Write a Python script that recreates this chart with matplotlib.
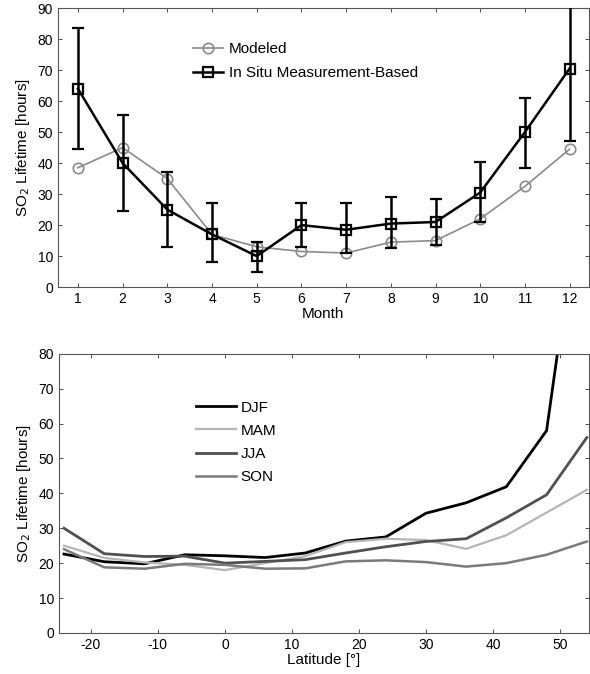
import numpy as np
import matplotlib
matplotlib.use('Agg')
import matplotlib.pyplot as plt

plt.rcParams['font.family'] = ['Liberation Sans', 'DejaVu Sans']
plt.rcParams['axes.unicode_minus'] = False

## monthly SO2 lifetime (top panel)
months = [1, 2, 3, 4, 5, 6, 7, 8, 9, 10, 11, 12]
modeled = [38.5, 45, 35, 17, 13, 11.5, 11, 14.5, 15, 22, 32.5, 44.5]
insitu = [64, 40, 25, 17, 10, 20, 18.5, 20.5, 21, 30.5, 50, 70.5]
err_low = [44.5, 24.5, 13, 8, 5, 13, 11, 12.5, 13.5, 21, 38.5, 47]
err_high = [83.5, 55.5, 37, 27, 14.5, 27, 27, 29, 28.5, 40.5, 61, 95]

## seasonal lifetime vs latitude (bottom panel)
lat = [-24, -18, -12, -6, 0, 6, 12, 18, 24, 30, 36, 42, 48, 54]
djf = [22.6, 20.4, 19.8, 22.4, 22.1, 21.6, 22.9, 26.3, 27.5, 34.3, 37.3, 41.9, 58.0, 140]
mam = [25.0, 21.5, 20.2, 19.5, 18.0, 20.0, 22.0, 26.0, 27.0, 26.6, 24.1, 28.0, 34.5, 41.0]
jja = [30.0, 22.7, 21.9, 22.0, 20.0, 20.5, 21.0, 22.9, 24.7, 26.2, 27.0, 33.0, 39.6, 56.0]
son = [24.0, 18.8, 18.4, 19.8, 19.5, 18.4, 18.5, 20.5, 20.8, 20.3, 19.0, 20.0, 22.4, 26.2]

fig = plt.figure(figsize=(5.9, 6.74), dpi=100)

ax1 = fig.add_axes([0.098, 0.574, 0.900, 0.414])
l1, = ax1.plot(months, modeled, color='#8a8a8a', lw=1.2, marker='o', ms=7.5,
               mfc='none', mec='#8a8a8a', mew=1.2, zorder=3)
yerr = [np.array(insitu) - np.array(err_low), np.array(err_high) - np.array(insitu)]
eb = ax1.errorbar(months, insitu, yerr=yerr, color='black', lw=1.8, marker='s', ms=7,
                  mfc='none', mec='black', mew=1.6, capsize=4.5, capthick=1.8,
                  elinewidth=1.8, zorder=4)
ax1.set_xlim(0.55, 12.43)
ax1.set_ylim(0, 90)
ax1.set_xticks(months)
ax1.set_yticks(np.arange(0, 91, 10))
ax1.set_xlabel('Month', fontsize=11, labelpad=1)
ax1.set_ylabel('SO$_2$ Lifetime [hours]', fontsize=11, labelpad=4)
# legend shows only line + marker (no error bar caps)
ax1.legend([l1, eb.lines[0]], ['Modeled', 'In Situ Measurement-Based'],
           loc='upper left', bbox_to_anchor=(0.24, 0.905), frameon=False,
           fontsize=11, handlelength=2.0, handletextpad=0.35, labelspacing=0.65,
           borderpad=0)

ax2 = fig.add_axes([0.100, 0.061, 0.898, 0.414])
ax2.plot(lat, djf, color='black', lw=2.0, label='DJF')
ax2.plot(lat, mam, color='#b5b5b5', lw=1.6, label='MAM')
ax2.plot(lat, jja, color='#505050', lw=2.0, label='JJA')
ax2.plot(lat, son, color='#7a7a7a', lw=1.8, label='SON')
ax2.set_xlim(-24.75, 54.3)
ax2.set_ylim(0, 80)
ax2.set_xticks([-20, -10, 0, 10, 20, 30, 40, 50])
ax2.set_yticks(np.arange(0, 81, 10))
ax2.set_xlabel('Latitude [°]', fontsize=11, labelpad=1)
ax2.set_ylabel('SO$_2$ Lifetime [hours]', fontsize=11, labelpad=4)
ax2.legend(loc='upper left', bbox_to_anchor=(0.245, 0.86), frameon=False,
           fontsize=11, handlelength=2.6, handletextpad=0.3, labelspacing=0.6,
           borderpad=0)

for ax in (ax1, ax2):
    ax.tick_params(direction='in', top=True, right=True, labelsize=10,
                   length=3, width=0.6, colors='#333333', labelcolor='black')
    for s in ax.spines.values():
        s.set_color('#555555')
        s.set_linewidth(0.8)

fig.savefig('out.png', dpi=100)
